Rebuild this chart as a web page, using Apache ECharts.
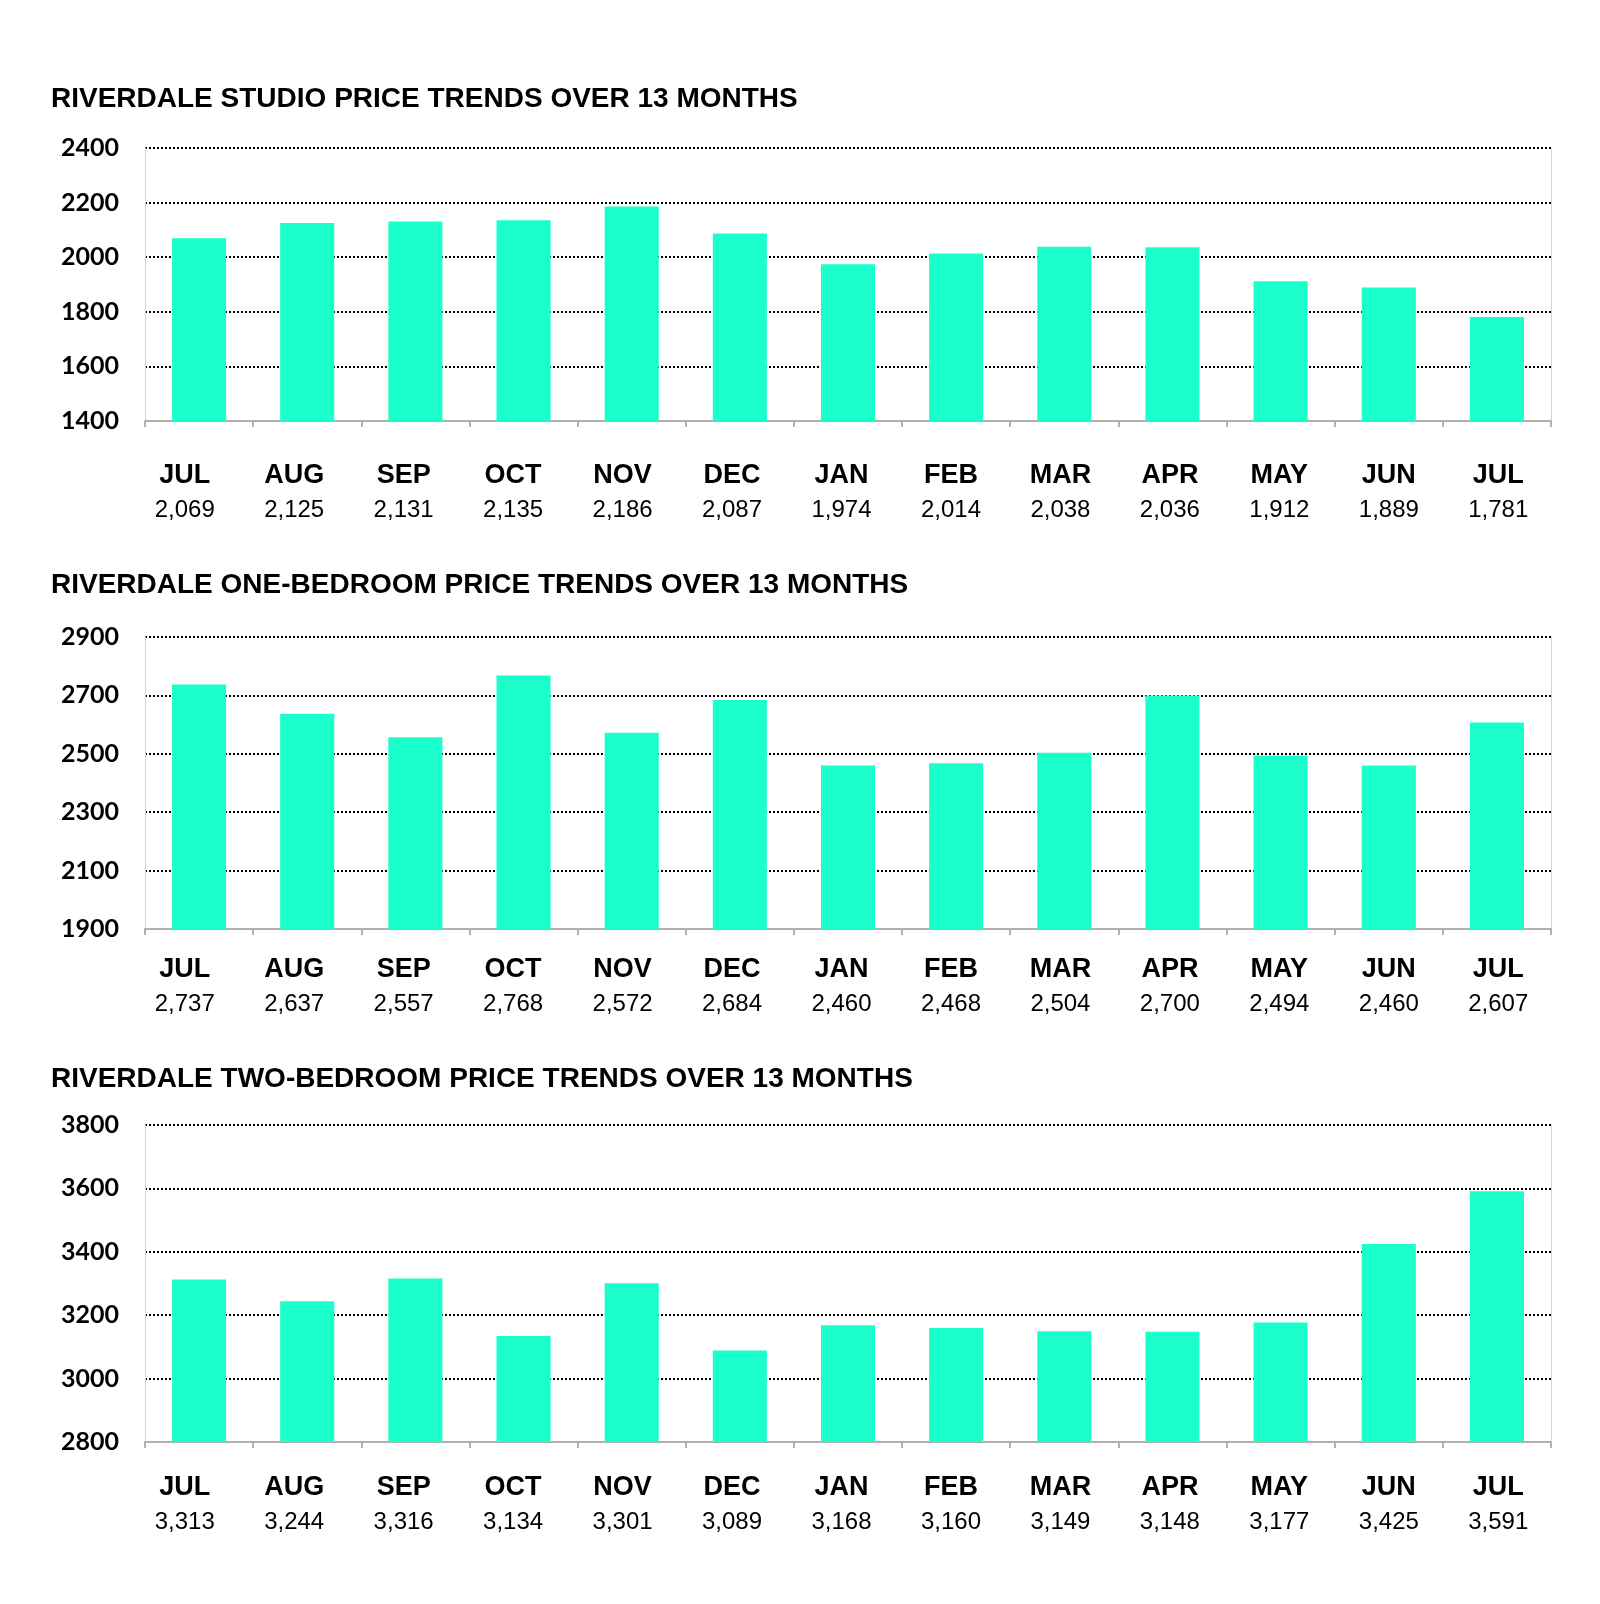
<!DOCTYPE html>
<html>
<head>
<meta charset="utf-8">
<script src="https://cdn.jsdelivr.net/npm/echarts@6/dist/echarts.min.js"></script>
<style>
html,body{margin:0;padding:0;background:#fff;}
#c{width:1600px;height:1604px;}
</style>
</head>
<body>
<div id="c"></div>
<script>
const months = ['JUL','AUG','SEP','OCT','NOV','DEC','JAN','FEB','MAR','APR','MAY','JUN','JUL'];
const studioPrices = [2069, 2125, 2131, 2135, 2186, 2087, 1974, 2014, 2038, 2036, 1912, 1889, 1781];
const oneBedPrices = [2737, 2637, 2557, 2768, 2572, 2684, 2460, 2468, 2504, 2700, 2494, 2460, 2607];
const twoBedPrices = [3313, 3244, 3316, 3134, 3301, 3089, 3168, 3160, 3149, 3148, 3177, 3425, 3591];
const titles = [
  'RIVERDALE STUDIO PRICE TRENDS OVER 13 MONTHS',
  'RIVERDALE ONE-BEDROOM PRICE TRENDS OVER 13 MONTHS',
  'RIVERDALE TWO-BEDROOM PRICE TRENDS OVER 13 MONTHS'
];
const yRanges = [
  {min: 1400, max: 2400, interval: 200},
  {min: 1900, max: 2900, interval: 200},
  {min: 2800, max: 3800, interval: 200}
];

const seriesData = [studioPrices, oneBedPrices, twoBedPrices];
const layout = [
  {titleTop: 85, top: 148, height: 273, labelMargin: 38},
  {titleTop: 571, top: 637, height: 292, labelMargin: 24},
  {titleTop: 1065, top: 1125, height: 317, labelMargin: 29}
];
const fmt = v => v.toLocaleString('en-US');
const BAR = '#1affcc';
const AX = '"Liberation Sans", Arial, sans-serif';
const GRAY = '#b0b0b0';

// main plot grids (0..2) and label-only grids (3..5)
const grids = layout.map(l => ({left: 145, right: 49, top: l.top, height: l.height}))
  .concat(layout.map(l => ({left: 130, right: 47, top: l.top, height: l.height})));

const xAxes = layout.map((l, i) => ({
    type: 'category', gridIndex: i, data: months,
    axisLine: {show: true, lineStyle: {color: GRAY, width: 2}},
    axisTick: {show: true, length: 6, lineStyle: {color: GRAY, width: 2}},
    axisLabel: {show: false},
    splitLine: {show: false}
  })).concat(layout.map((l, i) => ({
    type: 'category', gridIndex: 3 + i, data: months,
    axisLine: {show: false}, axisTick: {show: false}, splitLine: {show: false},
    axisLabel: {
      margin: l.labelMargin, interval: 0,
      formatter: (val, idx) => '{m|' + val + '}\n{v|' + fmt(seriesData[i][idx]) + '}',
      rich: {
        m: {fontFamily: AX, fontWeight: 'bold', fontSize: 27, lineHeight: 34, color: '#000', align: 'center'},
        v: {fontFamily: AX, fontSize: 24, lineHeight: 34, color: '#000', align: 'center'}
      }
    }
  })));

const yAxes = [].concat(...yRanges.map((r, i) => [
    {
      type: 'value', gridIndex: i, min: r.min, max: r.max, interval: r.interval,
      axisLine: {show: true, lineStyle: {color: '#d4d4d4', width: 1}},
      axisTick: {show: false},
      axisLabel: {margin: 26, fontFamily: 'Lato, "Open Sans", sans-serif', fontWeight: 'bold', fontSize: 25, color: '#000',
                  formatter: v => String(v)},
      splitLine: {show: true, showMinLine: false, lineStyle: {type: 'dotted', color: '#000', width: 2}}
    },
    {
      type: 'value', gridIndex: i, min: r.min, max: r.max, interval: r.interval, position: 'right',
      axisLine: {show: true, lineStyle: {color: '#d4d4d4', width: 1}},
      axisTick: {show: false}, axisLabel: {show: false}, splitLine: {show: false}
    }
  ])).concat(yRanges.map((r, i) => ({
    type: 'value', gridIndex: 3 + i, min: r.min, max: r.max, show: false
  })));

const option = {
  animation: false,
  backgroundColor: '#ffffff',
  title: titles.map((t, i) => ({
    text: t, left: 51, top: layout[i].titleTop, padding: 0,
    textStyle: {fontFamily: AX, fontWeight: 'bold', fontSize: 28, color: '#000'}
  })),
  grid: grids,
  xAxis: xAxes,
  yAxis: yAxes,
  series: seriesData.map((d, i) => ({
    type: 'bar', xAxisIndex: i, yAxisIndex: i * 2, data: d,
    barWidth: '50%', itemStyle: {color: BAR}, z: 3
  }))
};

const chart = echarts.init(document.getElementById('c'), null, {renderer: 'canvas'});
chart.setOption(option);
</script>
</body>
</html>
